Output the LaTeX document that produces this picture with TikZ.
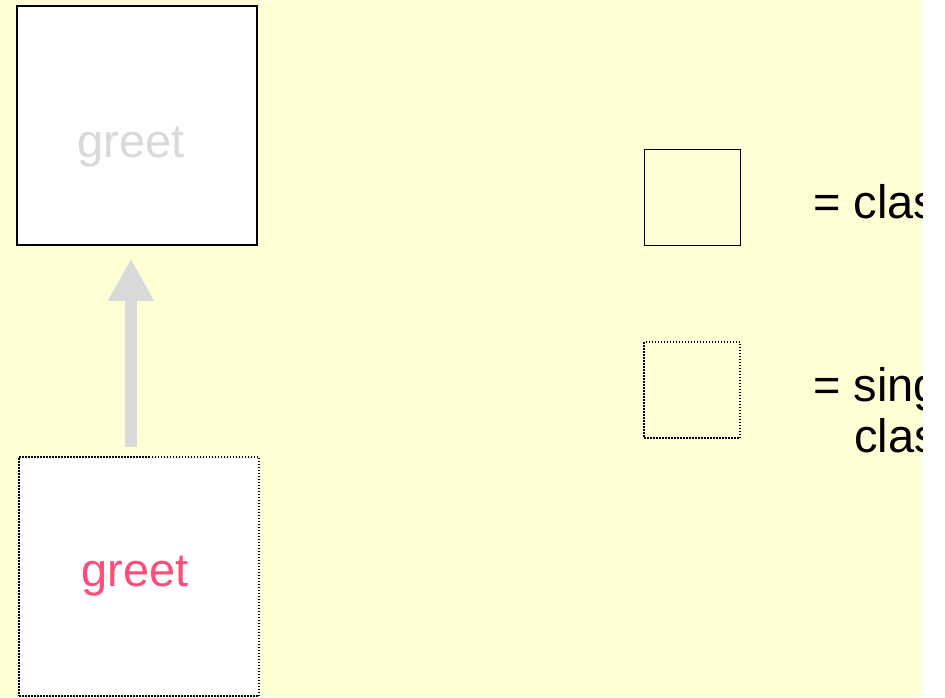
\documentclass[tikz,border=0pt]{standalone}
\usepackage{fontspec}
\setmainfont{Liberation Sans}
\usetikzlibrary{arrows.meta}
\definecolor{bgyellow}{RGB}{255,255,214}
\definecolor{ghostgray}{RGB}{217,217,217}
\definecolor{greetpink}{RGB}{255,77,122}
\begin{document}
\begin{tikzpicture}[x=1pt,y=-1pt,
    bigfont/.style={font=\fontsize{47}{54}\selectfont},
    classbox/.style={draw=black,line width=1.5pt,fill=white,inner sep=0pt,
      minimum width=240pt,minimum height=239pt},
    singbox/.style={classbox,dash pattern=on 1.5pt off 1.5pt},
    keybox/.style={draw=black,line width=1pt,inner sep=0pt,
      minimum width=96pt,minimum height=96pt},
    keydots/.style={keybox,line width=1.5pt,dash pattern=on 1.5pt off 1.5pt}]
        % 背景
        \useasboundingbox (0,0) rectangle (945,697);
        \fill[bgyellow] (0,0) rectangle (922,697);

        % 左边两个框
        \node[classbox] (super) at (137,125.5) {};
        \node[bigfont,text=ghostgray] (supername) at ([shift={(-6pt,-22pt)}]super.center) {greet};
        \node[singbox] (sing) at (139,576.5) {};
        \node[bigfont,text=greetpink] (singname) at ([xshift=-4pt]sing.center) {greet};

        % 灰色箭头
        \draw[ghostgray,line width=12pt,-{Triangle[width=43pt,length=42pt]}]
          ([shift={(-8,-9)}]sing.north) -- ([shift={(-6,13)}]super.south);

        % 图例
        \node[keybox] (keyclass) at (692,197.5) {};
        \node[keydots] (keysing) at (692,390) {};

        \begin{scope}
        \clip (0,0) rectangle (922,697);
        \node[bigfont,anchor=base west,inner sep=0pt] (classtxt) at (813,218) {= class};
        \node[bigfont,anchor=base west,inner sep=0pt] (singtxt) at (813,401) {= singleton};
        \node[bigfont,anchor=base west,inner sep=0pt] (singtxtb) at (854,452) {class};
        \end{scope}
\end{tikzpicture}
\end{document}
